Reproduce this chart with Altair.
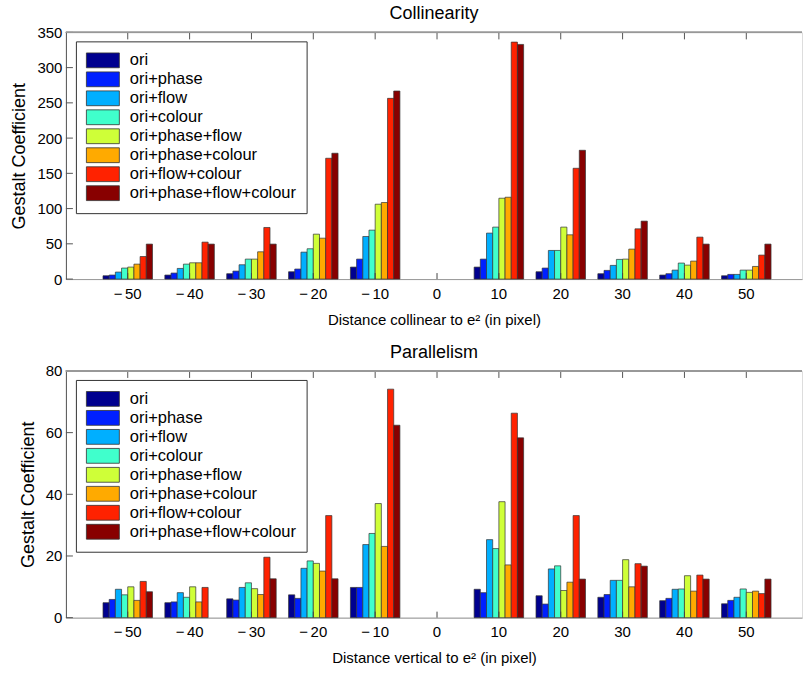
import altair as alt
import pandas as pd

series = ["ori", "ori+phase", "ori+flow", "ori+colour", "ori+phase+flow",
          "ori+phase+colour", "ori+flow+colour", "ori+phase+flow+colour"]
colors = ["#00008F", "#0020FF", "#00AFFF", "#40FFCC", "#CFFF38",
          "#FFAA00", "#FF2200", "#880000"]
distances = [-50, -40, -30, -20, -10, 10, 20, 30, 40, 50]
x_ticks = [-50, -40, -30, -20, -10, 0, 10, 20, 30, 40, 50]
y_ticks_col = [0, 50, 100, 150, 200, 250, 300, 350]
y_ticks_par = [0, 20, 40, 60, 80]

# Collinearity values, one list per series (distances -50..-10, 10..50)
col_ori = [4.7, 5.7, 7.6, 10.4, 17.0, 17.0, 10.4, 7.6, 5.7, 4.7]
col_phase = [5.7, 8.5, 11.3, 14.2, 28.3, 28.3, 15.6, 12.3, 7.6, 6.6]
col_flow = [9.9, 15.1, 20.3, 38.2, 60.4, 65.2, 40.6, 19.4, 12.7, 6.6]
col_colour = [15.6, 21.2, 28.3, 43.0, 69.4, 73.7, 40.6, 27.9, 22.7, 12.7]
col_phase_flow = [17.0, 23.1, 28.3, 63.7, 106.2, 114.7, 73.7, 28.3, 19.8, 12.7]
col_phase_colour = [21.2, 23.1, 38.7, 58.0, 108.6, 116.1, 62.8, 42.5, 25.5, 17.9]
col_flow_colour = [32.0, 52.4, 73.2, 171.4, 256.4, 336.2, 157.2, 71.3, 59.5, 34.0]
col_all = [49.6, 49.6, 49.6, 178.5, 266.8, 332.9, 182.7, 82.2, 49.6, 49.6]

# Parallelism values
par_ori = [4.85, 4.85, 6.1, 7.4, 9.8, 9.2, 7.1, 6.6, 5.5, 4.5]
par_phase = [5.9, 5.1, 5.7, 6.25, 9.8, 8.1, 4.4, 7.5, 6.25, 5.6]
par_flow = [9.2, 8.1, 9.8, 16.0, 23.7, 25.3, 15.8, 12.1, 9.2, 6.6]
par_colour = [7.4, 6.6, 11.3, 18.4, 27.3, 22.4, 16.8, 12.1, 9.3, 9.3]
par_phase_flow = [10.0, 10.0, 9.4, 17.6, 37.0, 37.6, 8.8, 18.8, 13.6, 8.2]
par_phase_colour = [5.6, 5.1, 7.5, 15.1, 23.1, 17.1, 11.5, 10.0, 8.6, 8.6]
par_flow_colour = [11.75, 9.8, 19.6, 33.1, 74.1, 66.3, 33.1, 17.5, 13.8, 7.8]
par_all = [8.4, 0.0, 12.6, 12.6, 62.4, 58.3, 12.5, 16.7, 12.5, 12.5]

col_lists = [col_ori, col_phase, col_flow, col_colour, col_phase_flow,
             col_phase_colour, col_flow_colour, col_all]
par_lists = [par_ori, par_phase, par_flow, par_colour, par_phase_flow,
             par_phase_colour, par_flow_colour, par_all]


def long_df(lists):
    rows = []
    for s, vals in zip(series, lists):
        for d, v in zip(distances, vals):
            rows.append({"dist": d, "series": s, "value": v})
    return pd.DataFrame(rows)


FONT = "Liberation Sans"
W = 737
H = 247
LEG_PATH = "M-2,-0.9L2,-0.9L2,0.9L-2,0.9Z"


def panel(lists, title, xtitle, ymax, yticks):
    df = long_df(lists)
    x_scale = alt.Scale(domain=x_ticks, paddingInner=0.2, paddingOuter=0.55, align=0.545)
    y_scale = alt.Scale(domain=[0, ymax], nice=False)
    x_axis = alt.Axis(title=xtitle, labelAngle=0, ticks=False,
                      labelFontSize=15, labelFont=FONT, labelColor="#000",
                      labelExpr="datum.value < 0 ? '\u2212\u2006' + abs(datum.value) : datum.label",
                      labelPadding=7, titleFontSize=15, titleFont=FONT,
                      titleFontWeight="normal", titleColor="#000", titlePadding=11,
                      domainColor="#999999", domainWidth=1)
    y_axis = alt.Axis(title="Gestalt Coefficient", values=yticks, ticks=False,
                      grid=False, labelFontSize=15, labelFont=FONT,
                      labelColor="#000", labelPadding=4, titleFontSize=18,
                      titleFont=FONT, titleFontWeight="normal", titleColor="#000",
                      titlePadding=8, domainColor="#555555", domainWidth=1)
    bars = alt.Chart(df).transform_filter("datum.value > 0").mark_bar(
        stroke="#333333", strokeWidth=0.7
    ).encode(
        x=alt.X("dist:O", scale=x_scale, sort=x_ticks, axis=x_axis, title=xtitle),
        xOffset=alt.XOffset("series:N", sort=series,
                            scale=alt.Scale(domain=series, paddingInner=0, paddingOuter=0)),
        y=alt.Y("value:Q", scale=y_scale, axis=y_axis, title="Gestalt Coefficient"),
        color=alt.Color("series:N", sort=series,
                        scale=alt.Scale(domain=series, range=colors),
                        legend=alt.Legend(title=None, orient="none", legendX=10, legendY=9,
                                          fillColor="white", strokeColor="#333333",
                                          padding=10, symbolType=LEG_PATH, symbolSize=272.25,
                                          symbolOffset=8,
                                          symbolStrokeColor="#333333", symbolStrokeWidth=0.8,
                                          labelFontSize=16.5, labelFont=FONT, labelColor="#000",
                                          labelOffset=18, labelLimit=400, rowPadding=-1)),
    )
    tick_df = pd.DataFrame({"dist": x_ticks})
    top_ticks = alt.Chart(tick_df).mark_rule(color="#555555", strokeWidth=1).encode(
        x=alt.X("dist:O", scale=x_scale, sort=x_ticks, axis=x_axis, title=xtitle),
        y=alt.value(0), y2=alt.value(7))
    bot_ticks = alt.Chart(tick_df).mark_rule(color="#444444", strokeWidth=1).encode(
        x=alt.X("dist:O", scale=x_scale, sort=x_ticks, axis=x_axis, title=xtitle),
        y=alt.value(H - 6), y2=alt.value(H))
    ytick_df = pd.DataFrame({"value": yticks})
    y_ticks = alt.Chart(ytick_df).mark_rule(color="#555555", strokeWidth=1).encode(
        y=alt.Y("value:Q", scale=y_scale, axis=y_axis, title="Gestalt Coefficient"),
        x=alt.value(0), x2=alt.value(7))
    top_border = alt.Chart(tick_df).mark_rule(color="#999999", strokeWidth=1).encode(
        x=alt.value(0), x2=alt.value(W), y=alt.value(0))
    return alt.layer(bars, top_ticks, bot_ticks, y_ticks, top_border).properties(
        width=W, height=H,
        title=alt.TitleParams(title, fontSize=18, font=FONT, fontWeight="normal",
                              color="#000", anchor="middle", offset=2),
    )


top = panel(col_lists, "Collinearity", "Distance collinear to e\u00b2  (in pixel)", 350, y_ticks_col)
bottom = panel(par_lists, "Parallelism", "Distance vertical to e\u00b2  (in pixel)", 80, y_ticks_par)

chart = alt.vconcat(top, bottom, spacing=15).resolve_scale(
    color="independent", x="independent", y="independent"
).properties(
    padding={"left": 10, "top": 4, "right": 0, "bottom": 0}
).configure_view(stroke=None).configure(font=FONT)

chart.save("out.html", embed_options={"renderer": "svg", "actions": False})
